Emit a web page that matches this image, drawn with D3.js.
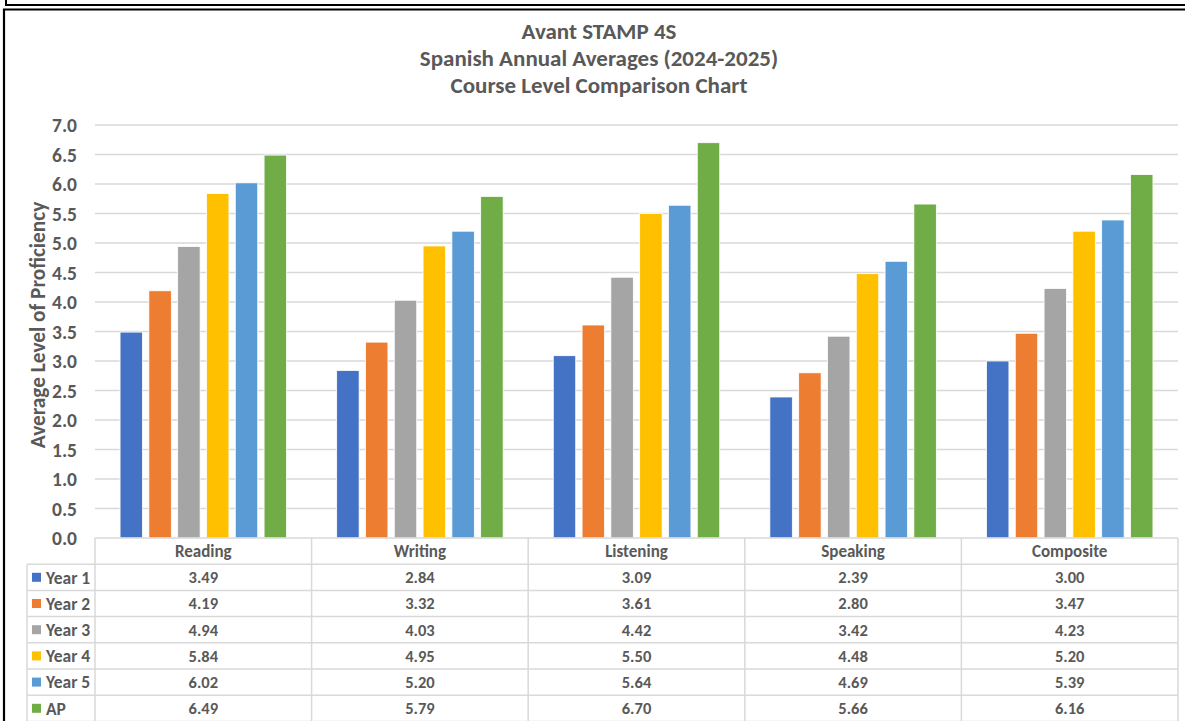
<!DOCTYPE html>
<html>
<head>
<meta charset="utf-8">
<script src="https://cdn.jsdelivr.net/npm/d3@7"></script>
<style>
  html, body { margin: 0; padding: 0; background: #fff; }
  svg { display: block; }
  text { font-family: Carlito, Lato, "Open Sans", sans-serif; font-weight: bold; fill: #595959; }
</style>
</head>
<body>
<svg id="chart" width="1185" height="721"></svg>
<script>
// ---- data ----
const categories = ["Reading", "Writing", "Listening", "Speaking", "Composite"];
const seriesNames = ["Year 1", "Year 2", "Year 3", "Year 4", "Year 5", "AP"];
const seriesColors = ["#4472C4", "#ED7D31", "#A5A5A5", "#FFC000", "#5B9BD5", "#70AD47"];
const year1 = [3.49, 2.84, 3.09, 2.39, 3.00];
const year2 = [4.19, 3.32, 3.61, 2.80, 3.47];
const year3 = [4.94, 4.03, 4.42, 3.42, 4.23];
const year4 = [5.84, 4.95, 5.50, 4.48, 5.20];
const year5 = [6.02, 5.20, 5.64, 4.69, 5.39];
const ap    = [6.49, 5.79, 6.70, 5.66, 6.16];
const yTicks = [0, 0.5, 1, 1.5, 2, 2.5, 3, 3.5, 4, 4.5, 5, 5.5, 6, 6.5, 7];
const titleLines = ["Avant STAMP 4S", "Spanish Annual Averages (2024-2025)", "Course Level Comparison Chart"];
const yTitle = "Average Level of Proficiency";

const seriesValues = [year1, year2, year3, year4, year5, ap];
const series = seriesNames.map((n, i) => ({ name: n, color: seriesColors[i], values: seriesValues[i] }));

// ---- layout ----
const svg = d3.select("#chart");
const plotLeft = 95, plotRight = 1178, plotTop = 125, plotBottom = 538;
const rowH = 26.2;
const legendLeft = 27;

// frames
svg.append("path").attr("d", "M6,0 V5 H1185").attr("fill", "none").attr("stroke", "#000").attr("stroke-width", 2);
svg.append("path").attr("d", "M4,721 V9.5 H1185").attr("fill", "none").attr("stroke", "#000").attr("stroke-width", 2.2);

// title
const title = svg.append("text").attr("text-anchor", "middle").style("font-size", "23px");
titleLines.forEach((t, i) => {
  title.append("tspan").attr("x", 599).attr("y", 38.5 + i * 27).text(t);
});

// scales
const x0 = d3.scaleBand().domain(categories).range([plotLeft, plotRight]).padding(0);
const x1 = d3.scaleBand().domain(seriesNames).range([0, x0.bandwidth()]).paddingInner(0.22).paddingOuter(0.87);
const y = d3.scaleLinear().domain([0, 7]).range([plotBottom, plotTop]);

// gridlines
svg.append("g").selectAll("line").data(yTicks.filter(d => d > 0)).join("line")
  .attr("x1", plotLeft).attr("x2", plotRight)
  .attr("y1", d => y(d)).attr("y2", d => y(d))
  .attr("stroke", "#d9d9d9").attr("stroke-width", 1.3);

// y axis labels
const yAxis = d3.axisLeft(y).tickValues(yTicks).tickFormat(d3.format(".1f")).tickSize(0).tickPadding(0);
const ya = svg.append("g").attr("transform", `translate(77,0)`).call(yAxis);
ya.select(".domain").remove();
ya.selectAll("text").style("font-size", "19.5px").attr("fill", "#595959")
  .style("font-family", "Carlito, Lato, 'Open Sans', sans-serif").style("font-weight", "bold").attr("dy", "0.35em");

// y axis title
svg.append("text").attr("transform", `translate(45,${325}) rotate(-90)`)
  .attr("text-anchor", "middle").style("font-size", "21.3px").text(yTitle);

// bars
const groups = svg.append("g").selectAll("g").data(series).join("g").attr("fill", d => d.color);
groups.selectAll("rect").data(s => s.values.map((v, i) => ({ s: s.name, c: categories[i], v }))).join("rect")
  .attr("x", d => x0(d.c) + x1(d.s))
  .attr("width", x1.bandwidth())
  .attr("y", d => y(d.v))
  .attr("height", d => y(0) - y(d.v))
  .attr("stroke", "#ffffff").attr("stroke-width", 0.8);

// data table
const tbl = svg.append("g");
const gridColor = "#d9d9d9";
const nRows = series.length;
const fs = "17px";
// horizontal lines
const hLines = d3.range(nRows + 2).map(i => plotBottom + i * rowH);
tbl.selectAll("line.h").data(hLines).join("line").attr("class", "h")
  .attr("x1", (d, i) => i === 0 ? plotLeft : legendLeft).attr("x2", plotRight)
  .attr("y1", d => d).attr("y2", d => d)
  .attr("stroke", gridColor).attr("stroke-width", 1.5);
// vertical lines
const colEdges = categories.map(c => x0(c)).concat([plotRight]);
tbl.selectAll("line.v").data(colEdges).join("line").attr("class", "v")
  .attr("x1", d => d).attr("x2", d => d).attr("y1", plotBottom).attr("y2", 721)
  .attr("stroke", gridColor).attr("stroke-width", 1.5);
tbl.append("line").attr("x1", legendLeft).attr("x2", legendLeft).attr("y1", plotBottom + rowH).attr("y2", 721)
  .attr("stroke", gridColor).attr("stroke-width", 1.5);

// header
tbl.selectAll("text.hdr").data(categories).join("text").attr("class", "hdr")
  .attr("x", d => x0(d) + x0.bandwidth() / 2).attr("y", plotBottom + rowH / 2).attr("dy", "0.36em")
  .attr("text-anchor", "middle").style("font-size", fs).text(d => d);

// rows
series.forEach((s, r) => {
  const cy = plotBottom + rowH * (r + 1) + rowH / 2;
  tbl.append("rect").attr("x", 32).attr("y", cy - 4.5).attr("width", 9).attr("height", 9).attr("fill", s.color);
  tbl.append("text").attr("x", 46).attr("y", cy).attr("dy", "0.36em").style("font-size", "17.5px").text(s.name);
  tbl.selectAll(null).data(s.values).join("text")
    .attr("x", (d, i) => x0(categories[i]) + x0.bandwidth() / 2).attr("y", cy).attr("dy", "0.36em")
    .attr("text-anchor", "middle").style("font-size", "16.5px").text(d => d3.format(".2f")(d));
});
</script>
</body>
</html>
